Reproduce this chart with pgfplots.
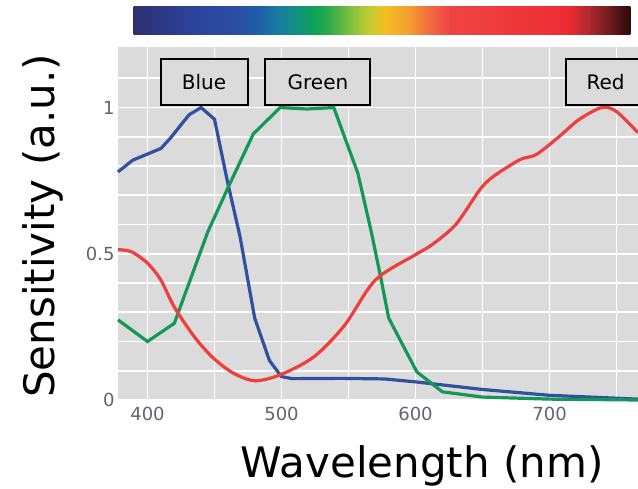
\documentclass[border=0pt]{standalone}
\usepackage{fontspec}
\setmainfont{DejaVu Sans}
\usepackage{pgfplots}
\pgfplotsset{compat=1.18}

\definecolor{bgray}{RGB}{219,219,219}
\definecolor{tickgray}{RGB}{95,100,115}
\definecolor{cblue}{RGB}{48,80,160}
\definecolor{cgreen}{RGB}{20,152,85}
\definecolor{cred}{RGB}{238,62,62}

% spectrum bar colours
\definecolor{s0}{HTML}{2E3070}
\definecolor{s1}{HTML}{2C3580}
\definecolor{s2}{HTML}{2B4298}
\definecolor{s3}{HTML}{2A4EA3}
\definecolor{s4}{HTML}{1B62A8}
\definecolor{s5}{HTML}{17809E}
\definecolor{s6}{HTML}{129477}
\definecolor{s7}{HTML}{0CA552}
\definecolor{s8}{HTML}{2AAB4A}
\definecolor{s9}{HTML}{8CC23C}
\definecolor{s10}{HTML}{C8CC30}
\definecolor{s11}{HTML}{F6BE22}
\definecolor{s12}{HTML}{F39A30}
\definecolor{s13}{HTML}{EF6840}
\definecolor{s14}{HTML}{EE4444}
\definecolor{s15}{HTML}{ED3036}
\definecolor{s16}{HTML}{E82A2E}
\definecolor{s17}{HTML}{B02A30}
\definecolor{s18}{HTML}{6A1A1C}
\definecolor{s19}{HTML}{2A0808}
\pgfdeclarehorizontalshading{spectrum}{100bp}{color(0bp)=(s0); color(25bp)=(s0);
  color(27bp)=(s1); color(30.45bp)=(s2); color(35.45bp)=(s3); color(37.8bp)=(s4);
  color(39.8bp)=(s5); color(41.8bp)=(s6); color(43.3bp)=(s7); color(44.5bp)=(s8);
  color(47.15bp)=(s9); color(48.85bp)=(s10); color(50.35bp)=(s11); color(52.85bp)=(s12);
  color(54.9bp)=(s13); color(56.9bp)=(s14); color(67.65bp)=(s15); color(68.95bp)=(s16);
  color(70.65bp)=(s17); color(73bp)=(s18); color(75bp)=(s19); color(100bp)=(s19)}

\begin{document}
\begin{tikzpicture}
\begin{axis}[
    scale only axis,
    width=520pt, height=353pt,
    xmin=378, xmax=766, ymin=0, ymax=1.207,
    xtick={400,500,600,700}, minor xtick={450,550,650,750},
    ytick={0,0.5,1}, minor ytick={0.1,0.2,0.3,0.4,0.6,0.7,0.8,0.9,1.1},
    grid=both,
    grid style={white, line width=1.6pt},
    axis background/.style={fill=bgray},
    axis line style={draw=none},
    major tick length=0pt, minor tick length=0pt,
    tick label style={font=\fontsize{18}{18}\selectfont, text=tickgray},
    xticklabel style={yshift=-4pt},
    /pgf/number format/assume math mode=true,
    xlabel={Wavelength (nm)},
    ylabel={Sensitivity (a.u.)},
    label style={font=\fontsize{42}{42}\selectfont},
    xlabel style={at={(axis description cs:0.585,-0.187)}, anchor=center},
    ylabel style={at={(axis description cs:-0.144,0.493)}, anchor=center},
    clip=false,
]
% blue
\addplot[cblue, line width=3.2pt] coordinates {
    (378,0.78) (389,0.82) (410,0.86) (417,0.895) (431,0.975) (440,1.0)
    (450,0.96) (460,0.74) (469,0.56) (480,0.28) (491,0.135) (500,0.08)
    (508,0.073) (545,0.074) (577,0.072) (600,0.062) (650,0.036)
    (700,0.016) (766,0.003)
};
% green
\addplot[cgreen, line width=3.2pt] coordinates {
    (378,0.274) (400,0.2) (420,0.262) (445,0.575) (462,0.745) (479,0.91)
    (499,1.0) (519,0.995) (539,1.0) (557,0.775) (567,0.575) (574,0.42)
    (580,0.28) (601,0.096) (620,0.028) (650,0.01) (700,0.003) (766,0.0)
};
% red
\addplot[cred, line width=3.2pt, smooth, tension=0.5] coordinates {
    (378,0.514) (388,0.507) (400,0.468) (410,0.41) (420,0.318) (435,0.216)
    (449,0.144) (464,0.092) (480,0.066) (499,0.086) (524,0.147) (547,0.255)
    (570,0.41) (600,0.497) (612,0.53) (630,0.6) (648,0.719) (658,0.764)
    (678,0.822) (690,0.839) (707,0.9) (722,0.959) (739,1.0) (750,0.986)
    (766,0.914)
};
\shade[shading=spectrum] (axis cs:389.6,1.25) rectangle (axis cs:760.4,1.346);
\tikzset{lbl/.style={draw=black, line width=2pt, fill=bgray,
    minimum height=46pt, inner sep=0pt, font=\fontsize{20}{20}\selectfont}}
\node[lbl, minimum width=87pt] at (axis cs:442.2,1.086) {Blue};
\node[lbl, minimum width=105pt] at (axis cs:527.2,1.086) {Green};
\node[lbl, minimum width=80pt] at (axis cs:741.8,1.086) {Red};
\end{axis}
\pgfresetboundingbox
\useasboundingbox (-118pt,-88pt) rectangle (520pt,400pt);
\end{tikzpicture}
\end{document}
